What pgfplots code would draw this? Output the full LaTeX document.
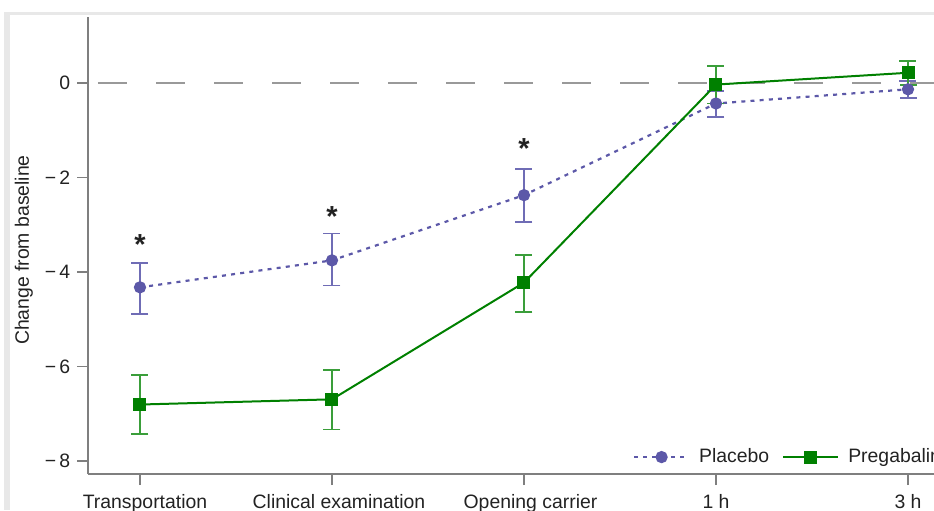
\documentclass[border=0pt]{standalone}
\usepackage{pgfplots}
\pgfplotsset{compat=1.18}
\usepackage{pgfplotstable}
\usepackage{fontspec}
\setmainfont{Liberation Sans}
\definecolor{plac}{HTML}{5C58A8}
\definecolor{placbar}{HTML}{6F6CB5}
\definecolor{preg}{HTML}{008000}
\definecolor{pregbar}{HTML}{3A9E3A}
\definecolor{axgray}{HTML}{7F7F7F}
\definecolor{txt}{HTML}{222222}

\pgfplotstableread{
x y ep em
0 -4.32 0.51 0.56
1 -3.75 0.57 0.53
2 -2.37 0.56 0.56
3 -0.43 0.26 0.28
4 -0.13 0.18 0.18
}\placebo

\pgfplotstableread{
x y ep em
0 -6.80 0.62 0.63
1 -6.69 0.62 0.64
2 -4.22 0.58 0.63
3 -0.03 0.40 0.40
4 0.22 0.25 0.26
}\pregabalin

\pgfplotsset{longleg/.style={legend image code/.code={\draw[##1, mark repeat=2, mark phase=2] plot coordinates {(0pt,0pt) (13.75pt,0pt) (27.5pt,0pt)};}}}

\begin{document}
\fontsize{9.7}{11}\selectfont
\begin{tikzpicture}[x=1pt,y=1pt]
\useasboundingbox (0,0) rectangle (467,255);
\clip (0,0) rectangle (467,255);
\fill[gray!18] (2,247.5) rectangle (467,249.2);
\fill[gray!18] (2,0) rectangle (5,249.2);
\begin{axis}[
  at={(44pt,18pt)}, anchor=south west,
  scale only axis, width=438.8pt, height=228.5pt,
  xmin=-0.2708, xmax=4.3, ymin=-8.27, ymax=1.4,
  axis lines=left,
  axis line style={axgray, line width=0.75pt, -},
  xtick={0,1,2,3,4},
  xticklabels={{\hspace*{5pt}Transportation}, {\hspace*{7pt}Clinical examination}, {\hspace*{6.5pt}Opening carrier}, 1 h, 3 h},
  xticklabel style={yshift=-1.5pt},
  ytick={-8,-6,-4,-2,0},
  yticklabels={{−\,8},{−\,6},{−\,4},{−\,2},{0}},
  tick align=outside,
  major tick length=5.5pt,
  tick style={axgray, line width=0.75pt},
  ticklabel style={text=txt},
  ylabel={Change from baseline},
  ylabel style={at={(axis description cs:-0.073,0.49)}, anchor=center, text=txt},
  legend style={at={(axis description cs:0.621,0.037)}, anchor=west,
    draw=none, fill=none, inner sep=0pt, outer sep=0pt,
    nodes={inner sep=0pt, text=txt}},
  legend columns=2,
  clip=false,
]
\addplot[gray!80, line width=1pt, dash pattern=on 14.5pt off 14.5pt, dash phase=24pt, forget plot]
  coordinates {(-0.2708,0) (4.3,0)};

\addplot[plac, line width=1.1pt, dash pattern=on 2pt off 2.6pt,
  mark=*, mark size=2.5pt, mark options={solid, fill=plac, draw=plac},
  longleg,
  error bars/.cd, y dir=both, y explicit,
  error bar style={placbar, line width=0.9pt, solid},
  error mark options={rotate=90, mark size=4.25pt, placbar, line width=0.9pt, solid}]
  table[x=x, y=y, y error plus=ep, y error minus=em] {\placebo};
\addlegendentry{\hspace*{4.5pt}Placebo\hspace*{6.5pt}\null}

\addplot[preg, line width=1pt, solid,
  mark=square*, mark size=2.75pt, mark options={solid, fill=preg, draw=preg},
  longleg,
  error bars/.cd, y dir=both, y explicit,
  error bar style={pregbar, line width=0.9pt, solid},
  error mark options={rotate=90, mark size=4.25pt, pregbar, line width=0.9pt, solid}]
  table[x=x, y=y, y error plus=ep, y error minus=em] {\pregabalin};
\addlegendentry{\hspace*{4.5pt}Pregabalin}

\node[font=\fontsize{14.5}{14.5}\selectfont\bfseries, anchor=base, text=txt] at (axis cs:0,-3.62) {*};
\node[font=\fontsize{14.5}{14.5}\selectfont\bfseries, anchor=base, text=txt] at (axis cs:1,-3.04) {*};
\node[font=\fontsize{14.5}{14.5}\selectfont\bfseries, anchor=base, text=txt] at (axis cs:2,-1.60) {*};
\end{axis}
\end{tikzpicture}
\end{document}
